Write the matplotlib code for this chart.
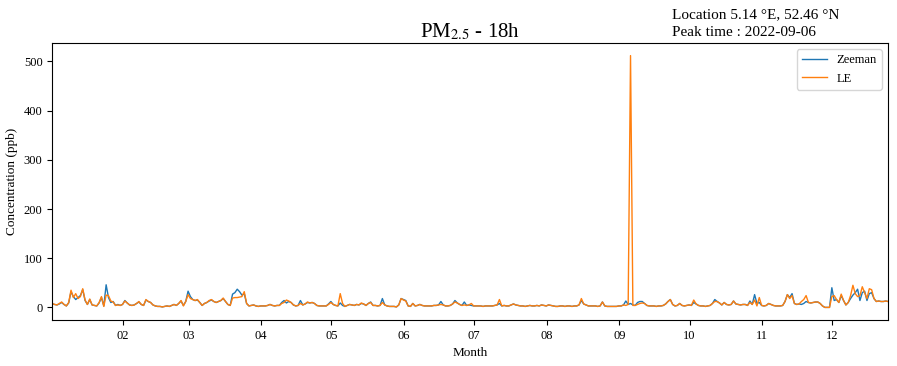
import matplotlib
matplotlib.use("Agg")
import matplotlib.pyplot as plt
import matplotlib.dates as mdates
import numpy as np
import pandas as pd

plt.rcParams['font.family'] = ['Liberation Serif', 'DejaVu Serif']
plt.rcParams['mathtext.fontset'] = 'stix'

## ======= Daily PM2.5 at 18h

# Zeeman (blue), one list per month
zee_jan = [7, 6, 5, 7, 10, 6, 3, 9, 32, 22, 16, 20, 24, 36, 14, 6, 16, 5, 4, 3, 9, 20, 3, 46, 20, 10, 12, 4, 6, 4, 6]
zee_feb = [14, 9, 5, 4, 5, 8, 11, 6, 4, 15, 12, 10, 5, 3, 2, 2, 1, 2, 3, 2, 4, 6, 4, 8, 13, 4, 12, 33]
zee_mar = [22, 16, 14, 15, 10, 4, 8, 10, 13, 15, 12, 10, 12, 14, 18, 12, 6, 4, 27, 30, 37, 32, 25, 28, 8, 3, 4, 5, 3, 2, 3]
zee_apr = [3, 3, 4, 6, 4, 3, 4, 4, 10, 14, 9, 12, 10, 5, 3, 4, 14, 5, 7, 10, 9, 10, 8, 4, 3, 3, 3, 3, 7, 12]
zee_may = [6, 4, 3, 9, 4, 2, 4, 6, 5, 4, 6, 5, 8, 7, 4, 8, 11, 4, 4, 3, 4, 18, 5, 3, 2, 2, 2, 1, 5, 18, 16]
zee_jun = [14, 3, 2, 8, 3, 4, 6, 4, 3, 3, 3, 3, 4, 4, 5, 12, 5, 3, 3, 4, 7, 14, 9, 6, 4, 11, 4, 5, 4, 3]
zee_jul = [3, 3, 3, 2, 3, 3, 3, 3, 4, 5, 8, 3, 4, 3, 3, 5, 7, 5, 4, 3, 3, 2, 3, 4, 3, 3, 4, 3, 5, 4, 3]
zee_aug = [5, 4, 3, 2, 2, 3, 3, 2, 3, 3, 2, 3, 3, 5, 14, 7, 5, 3, 3, 3, 3, 2, 3, 11, 3, 2, 2, 2, 2, 2, 3]
zee_sep = [3, 5, 13, 6, 8, 5, 4, 10, 12, 12, 8, 4, 3, 3, 3, 2, 3, 3, 4, 7, 12, 16, 6, 3, 4, 8, 4, 3, 4, 5]
zee_oct = [4, 10, 7, 4, 3, 3, 2, 3, 4, 8, 16, 12, 9, 5, 10, 6, 5, 6, 13, 7, 6, 5, 6, 6, 4, 13, 6, 26, 8, 10, 4]
zee_nov = [3, 4, 8, 6, 4, 3, 3, 3, 4, 12, 26, 20, 28, 8, 6, 7, 6, 8, 12, 10, 9, 10, 11, 11, 8, 3, 0, 0, 0, 40]
zee_dec = [14, 16, 10, 24, 14, 5, 10, 18, 25, 30, 37, 14, 30, 33, 14, 28, 30, 18, 12, 13, 12, 12, 13, 12]

# LE (orange)
le_jan = [8, 6, 5, 8, 11, 6, 3, 10, 35, 20, 28, 18, 22, 38, 15, 6, 17, 5, 4, 3, 10, 22, 2, 25, 24, 13, 11, 4, 5, 4, 6]
le_feb = [13, 9, 5, 4, 5, 8, 12, 6, 4, 16, 12, 10, 5, 3, 2, 2, 1, 2, 3, 2, 4, 6, 4, 8, 14, 3, 12, 26]
le_mar = [18, 16, 14, 16, 10, 4, 8, 10, 14, 16, 12, 10, 12, 14, 19, 12, 6, 4, 19, 20, 20, 21, 22, 32, 8, 3, 4, 5, 3, 2, 3]
le_apr = [3, 3, 4, 6, 4, 3, 4, 4, 8, 10, 15, 13, 10, 5, 3, 4, 8, 5, 7, 11, 9, 10, 8, 4, 3, 3, 3, 3, 6, 10]
le_may = [6, 4, 3, 28, 8, 2, 4, 6, 5, 4, 6, 5, 9, 7, 4, 8, 10, 4, 4, 3, 4, 10, 5, 3, 2, 2, 2, 1, 5, 18, 15]
le_jun = [13, 3, 2, 8, 3, 4, 6, 4, 3, 3, 3, 3, 4, 4, 5, 6, 5, 3, 3, 4, 7, 11, 9, 6, 4, 5, 4, 5, 8, 3]
le_jul = [3, 3, 3, 2, 3, 3, 3, 3, 4, 5, 16, 3, 4, 3, 3, 5, 7, 5, 4, 3, 3, 2, 3, 4, 3, 3, 4, 3, 5, 4, 3]
le_aug = [5, 4, 3, 2, 2, 3, 3, 2, 3, 3, 2, 3, 3, 5, 18, 7, 5, 3, 3, 3, 3, 2, 3, 11, 3, 2, 2, 2, 2, 2, 3]
le_sep = [3, 5, 4, 6, 512, 4, 4, 6, 8, 9, 8, 4, 3, 3, 3, 2, 3, 3, 4, 7, 12, 16, 6, 3, 4, 8, 4, 3, 4, 5]
le_oct = [4, 15, 7, 4, 3, 3, 2, 3, 4, 8, 12, 12, 9, 5, 10, 6, 5, 6, 13, 7, 6, 5, 6, 6, 4, 10, 6, 15, 3, 20, 4]
le_nov = [3, 4, 8, 6, 4, 3, 3, 3, 4, 12, 26, 18, 24, 8, 6, 7, 12, 16, 24, 10, 9, 10, 11, 11, 8, 3, 0, 0, 0, 22]
le_dec = [24, 16, 10, 27, 14, 5, 10, 24, 45, 28, 22, 24, 42, 30, 18, 38, 36, 18, 12, 13, 12, 12, 13, 12]

zeeman = np.concatenate([zee_jan, zee_feb, zee_mar, zee_apr, zee_may, zee_jun,
                         zee_jul, zee_aug, zee_sep, zee_oct, zee_nov, zee_dec])
le = np.concatenate([le_jan, le_feb, le_mar, le_apr, le_may, le_jun,
                     le_jul, le_aug, le_sep, le_oct, le_nov, le_dec])
dates = pd.date_range('2022-01-01 18:00', periods=len(zeeman), freq='D')

location_text = 'Location 5.14 °E, 52.46 °N\nPeak time : 2022-09-06'

fig = plt.figure(figsize=(8.97, 3.66), dpi=100)
ax = fig.add_axes([0.0583, 0.1257, 0.9317, 0.7568])

ax.plot(dates, zeeman, color='#1f77b4', lw=1.0, label='Zeeman')
ax.plot(dates, le, color='#ff7f0e', lw=1.0, label='LE')

ax.set_xlim(dates[0], dates[-1])
ax.xaxis.set_major_locator(mdates.MonthLocator())
ax.xaxis.set_major_formatter(mdates.DateFormatter('%m'))
ax.tick_params(labelsize=9)
ax.set_xlabel('Month', fontsize=9.5)
ax.set_ylabel('Concentration (ppb)', fontsize=9.5)
ax.legend(loc='upper right', fontsize=9)

ax.set_title('PM$_{2.5}$ - 18h', fontsize=15, pad=4)
fig.text(0.749, 0.893, location_text, fontsize=11, ha='left', va='bottom',
         linespacing=1.45)

fig.savefig('out.png', dpi=100)
